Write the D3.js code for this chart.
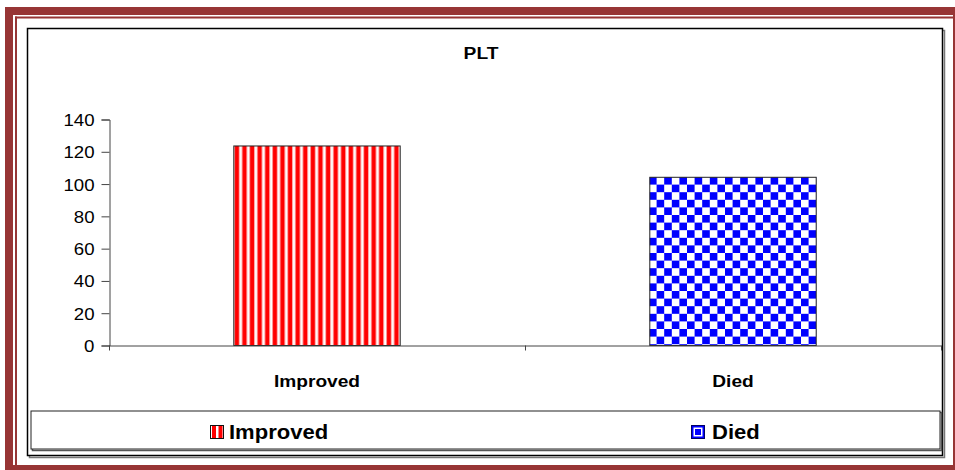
<!DOCTYPE html>
<html>
<head>
<meta charset="utf-8">
<script src="https://cdn.jsdelivr.net/npm/d3@7/dist/d3.min.js"></script>
<style>
  html, body { margin: 0; padding: 0; background: #fff; }
  svg { display: block; }
  text { font-family: "Liberation Sans", Arial, Helvetica, sans-serif; fill: #000; }
</style>
</head>
<body>
<svg id="chart" width="955" height="470"></svg>
<script>
// ---- data ----
const title = "PLT";
const categories = ["Improved", "Died"];
const values = [123.6, 104.2];
const yTicks = [0, 20, 40, 60, 80, 100, 120, 140];
const legendLabels = ["Improved", "Died"];

// ---- setup ----
const svg = d3.select("#chart");
const W = 955, H = 470;
const maroon = "#973535";
const SX = 1.13; // horizontal stretch of text seen in reference

function stretchedText(parent, x, y, str, opts) {
  const g = parent.append("g").attr("transform", `translate(${x},${y}) scale(${opts.sx || SX},1)`);
  const t = g.append("text").text(str)
    .attr("font-size", opts.size)
    .attr("font-weight", opts.bold ? "bold" : "normal")
    .attr("text-anchor", opts.anchor || "start");
  return t;
}

// defs: patterns
const defs = svg.append("defs");
const stripe = defs.append("pattern").attr("id", "stripes")
  .attr("patternUnits", "userSpaceOnUse").attr("width", 7.6).attr("height", 10)
  .attr("x", 234);
stripe.append("rect").attr("width", 7.6).attr("height", 10).attr("fill", "#fff");
stripe.append("rect").attr("x", 0).attr("width", 1).attr("height", 10).attr("fill", "#ff9a9a");
stripe.append("rect").attr("x", 1).attr("width", 3.8).attr("height", 10).attr("fill", "#ff0000");
stripe.append("rect").attr("x", 4.8).attr("width", 1).attr("height", 10).attr("fill", "#ff9a9a");

const checker = defs.append("pattern").attr("id", "checker")
  .attr("patternUnits", "userSpaceOnUse").attr("width", 15.2).attr("height", 15.2)
  .attr("x", 649).attr("y", 177);
checker.append("rect").attr("width", 15.2).attr("height", 15.2).attr("fill", "#fff");
checker.append("rect").attr("x", 0).attr("y", 0).attr("width", 7.6).attr("height", 7.6).attr("fill", "#0000ff");
checker.append("rect").attr("x", 7.6).attr("y", 7.6).attr("width", 7.6).attr("height", 7.6).attr("fill", "#0000ff");

// ---- outer decorative frame ----
svg.append("rect").attr("x", 5).attr("y", 7).attr("width", W - 5).attr("height", 8).attr("fill", maroon);
svg.append("rect").attr("x", 5).attr("y", 7).attr("width", 8).attr("height", H - 7).attr("fill", maroon);
svg.append("rect").attr("x", 15).attr("y", 16.5).attr("width", 938).attr("height", 2).attr("fill", maroon);
svg.append("rect").attr("x", 15).attr("y", 16.5).attr("width", 2).attr("height", 449).attr("fill", maroon);
svg.append("rect").attr("x", 953).attr("y", 7).attr("width", 2).attr("height", H - 7).attr("fill", maroon);
svg.append("rect").attr("x", 5).attr("y", 465).attr("width", W - 5).attr("height", 5).attr("fill", maroon);

// ---- chart box with shadow ----
svg.append("rect").attr("x", 29.5).attr("y", 30.5).attr("width", 915).attr("height", 427)
  .attr("fill", "none").attr("stroke", "#777").attr("stroke-width", 1.5);
svg.append("rect").attr("x", 27.5).attr("y", 28.5).attr("width", 915).attr("height", 427)
  .attr("fill", "#fff").attr("stroke", "#000").attr("stroke-width", 1.5);

// ---- title ----
stretchedText(svg, 481, 59, title, { size: 17, bold: true, anchor: "middle" });

// ---- scales ----
const x = d3.scaleBand().domain(categories).range([109, 941])
  .paddingInner(0.6).paddingOuter(0.3);
const y = d3.scaleLinear().domain([0, 140]).range([345.5, 119.5]);

// ---- bars ----
const fills = ["url(#stripes)", "url(#checker)"];
svg.append("g").selectAll("rect").data(categories).join("rect")
  .attr("x", d => x(d))
  .attr("y", (d, i) => y(values[i]))
  .attr("width", x.bandwidth())
  .attr("height", (d, i) => y(0) - y(values[i]))
  .attr("fill", (d, i) => fills[i])
  .attr("stroke", "#222").attr("stroke-width", 1);

// ---- y axis ----
const yAxis = svg.append("g").attr("transform", "translate(109.5,0)")
  .call(d3.axisLeft(y).tickValues(yTicks).tickSize(8).tickFormat(d3.format("d")));
yAxis.select(".domain").attr("stroke", "#444");
yAxis.selectAll(".tick line").attr("stroke", "#444");
yAxis.selectAll(".tick text").each(function() {
  const t = d3.select(this);
  t.attr("x", null).attr("dy", null)
   .attr("transform", `translate(-15,6) scale(${SX},1)`)
   .attr("font-size", 16.5)
   .attr("font-family", '"Liberation Sans", Arial, sans-serif')
   .attr("fill", "#000")
   .attr("text-anchor", "end");
});

// ---- x axis ----
const xEdge = d3.scaleLinear().domain([0, categories.length]).range([109, 941]);
const xAxis = svg.append("g").attr("transform", "translate(0,345.5)")
  .call(d3.axisBottom(xEdge).tickValues(d3.range(categories.length + 1)).tickSize(5).tickSizeOuter(0).tickFormat(""));
xAxis.select(".domain").attr("stroke", "#444");
xAxis.selectAll(".tick line").attr("stroke", "#444");

const catG = svg.append("g");
categories.forEach(c => {
  stretchedText(catG, x(c) + x.bandwidth() / 2, 386.5, c, { size: 16.5, bold: true, anchor: "middle", sx: 1.16 });
});

// ---- legend ----
svg.append("rect").attr("x", 32.5).attr("y", 412.5).attr("width", 909).attr("height", 38)
  .attr("fill", "none").attr("stroke", "#555").attr("stroke-width", 1.5);
svg.append("rect").attr("x", 31).attr("y", 411).attr("width", 909).attr("height", 38)
  .attr("fill", "#fff").attr("stroke", "#222").attr("stroke-width", 1);

const legSwatchX = [210, 691];
const legTextX = [229, 712];
// Improved swatch
const sw1 = svg.append("g").attr("transform", `translate(${legSwatchX[0]},425)`);
sw1.append("rect").attr("width", 14).attr("height", 14).attr("fill", "#fff");
sw1.append("rect").attr("x", 2).attr("width", 4).attr("height", 14).attr("fill", "#ff0000");
sw1.append("rect").attr("x", 8.5).attr("width", 4).attr("height", 14).attr("fill", "#ff0000");
sw1.append("rect").attr("x", 0.5).attr("y", 0.5).attr("width", 13).attr("height", 13)
  .attr("fill", "none").attr("stroke", "#111").attr("stroke-width", 1);
// Died swatch
const sw2 = svg.append("g").attr("transform", `translate(${legSwatchX[1]},425)`);
sw2.append("rect").attr("width", 14).attr("height", 14).attr("fill", "#0000ff");
sw2.append("rect").attr("x", 2.5).attr("y", 2.5).attr("width", 9).attr("height", 9).attr("fill", "#fff");
sw2.append("rect").attr("x", 4).attr("y", 4).attr("width", 6).attr("height", 6).attr("fill", "#0000ff");
sw2.append("rect").attr("x", 0.5).attr("y", 0.5).attr("width", 13).attr("height", 13)
  .attr("fill", "none").attr("stroke", "#000066").attr("stroke-width", 1);

legendLabels.forEach((l, i) => {
  stretchedText(svg, legTextX[i], 439, l, { size: 19.5, bold: true, anchor: "start" });
});
</script>
</body>
</html>
